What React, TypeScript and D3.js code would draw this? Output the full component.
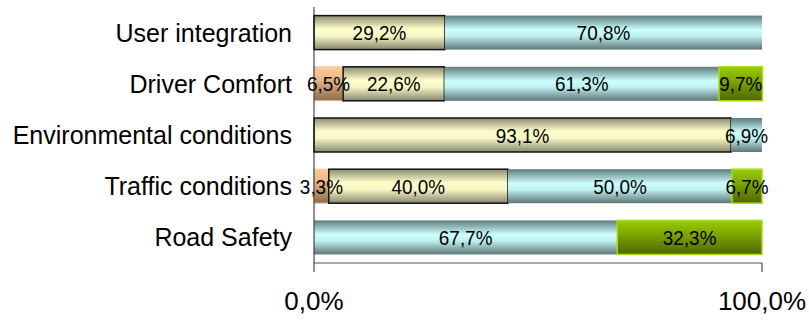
import React from "react";
import * as d3 from "d3";

const categories = ["User integration", "Driver Comfort", "Environmental conditions", "Traffic conditions", "Road Safety"];
const seriesKeys = ["s1", "s2", "s3", "s4"];
const s1 = [0, 6.5, 0, 3.3, 0];
const s2 = [29.2, 22.6, 93.1, 40.0, 0];
const s3 = [70.8, 61.3, 6.9, 50.0, 67.7];
const s4 = [0, 9.7, 0, 6.7, 32.3];
const tickValues = [0, 100];

const W = 809, H = 326;
const x0 = 314, x1 = 762, yTop = 7, yBot = 263;

const fmt = (v: number) => v.toFixed(1).replace(".", ",") + "%";

export default function App() {
  const x = d3.scaleLinear().domain([0, 100]).range([x0, x1]);
  const y = d3.scaleBand<string>().domain(categories).range([yTop, yBot]).paddingInner(0.336).paddingOuter(0.168);
  const rows = categories.map((c, i) => ({ cat: c, s1: s1[i], s2: s2[i], s3: s3[i], s4: s4[i] }));
  const stack = d3.stack<any>().keys(seriesKeys)(rows);
  const fills: Record<string, string> = { s1: "url(#g1)", s2: "url(#g2)", s3: "url(#g3)", s4: "url(#g4)" };
  const strokes: Record<string, string> = { s1: "#f5c9a0", s2: "#111", s3: "none", s4: "#a8dc10" };
  const sw: Record<string, number> = { s1: 1, s2: 1.5, s3: 0, s4: 1.5 };
  const font = "'Liberation Sans', Arial, sans-serif";
  return (
    <svg width={W} height={H} style={{ position: "fixed", left: 0, top: 0, background: "#fff" }}>
      <defs>
        <linearGradient id="g1" x1="0" y1="0" x2="0" y2="1">
          <stop offset="0" stopColor="#ffcc99" />
          <stop offset="0.35" stopColor="#eab98c" />
          <stop offset="1" stopColor="#8e6a4c" />
        </linearGradient>
        <linearGradient id="g2" x1="0" y1="0" x2="0" y2="1">
          <stop offset="0" stopColor="#8c8c70" />
          <stop offset="0.4" stopColor="#ffffcc" />
          <stop offset="0.6" stopColor="#f6f6c6" />
          <stop offset="1" stopColor="#868670" />
        </linearGradient>
        <linearGradient id="g3" x1="0" y1="0" x2="0" y2="1">
          <stop offset="0" stopColor="#5e7c7c" />
          <stop offset="0.42" stopColor="#ccffff" />
          <stop offset="0.6" stopColor="#c0f0f0" />
          <stop offset="1" stopColor="#5e7676" />
        </linearGradient>
        <linearGradient id="g4" x1="0" y1="0" x2="0" y2="1">
          <stop offset="0" stopColor="#99cc00" />
          <stop offset="0.4" stopColor="#7fa600" />
          <stop offset="1" stopColor="#4d6600" />
        </linearGradient>
      </defs>
      {stack.map((layer) =>
        layer.map((d: any, i: number) => {
          const v = d[1] - d[0];
          if (v <= 0) return null;
          const yy = y(categories[i])!;
          return (
            <rect key={layer.key + i} x={x(d[0])} y={yy} width={x(d[1]) - x(d[0])} height={y.bandwidth()}
              fill={fills[layer.key]} stroke={strokes[layer.key]} strokeWidth={sw[layer.key]} />
          );
        })
      )}
      {stack.map((layer) =>
        layer.map((d: any, i: number) => {
          const v = d[1] - d[0];
          if (v <= 0) return null;
          const cx = x((d[0] + d[1]) / 2);
          const yy = y(categories[i])! + y.bandwidth() / 2;
          return (
            <text key={"t" + layer.key + i} x={0} y={yy} dy="0.36em" textAnchor="middle"
              fontFamily={font} fontSize={21} fill="#000" transform={`translate(${cx},0) scale(0.9,1)`}>
              {fmt(v)}
            </text>
          );
        })
      )}
      {categories.map((c) => (
        <text key={c} x={292} y={y(c)! + y.bandwidth() / 2} dy="0.36em" textAnchor="end" fontFamily={font} fontSize={25} fill="#000">
          {c}
        </text>
      ))}
      <line x1={x0} x2={x0} y1={yTop} y2={yBot} stroke="#222" strokeWidth={1} />
      <line x1={x0} x2={x1} y1={yBot} y2={yBot} stroke="#555" strokeWidth={1} />
      {tickValues.map((t) => (
        <g key={t}>
          <line x1={x(t)} x2={x(t)} y1={yBot} y2={yBot + 9} stroke="#222" />
          <text x={x(t)} y={310} textAnchor="middle" fontFamily={font} fontSize={26} fill="#000">{fmt(t)}</text>
        </g>
      ))}
    </svg>
  );
}
